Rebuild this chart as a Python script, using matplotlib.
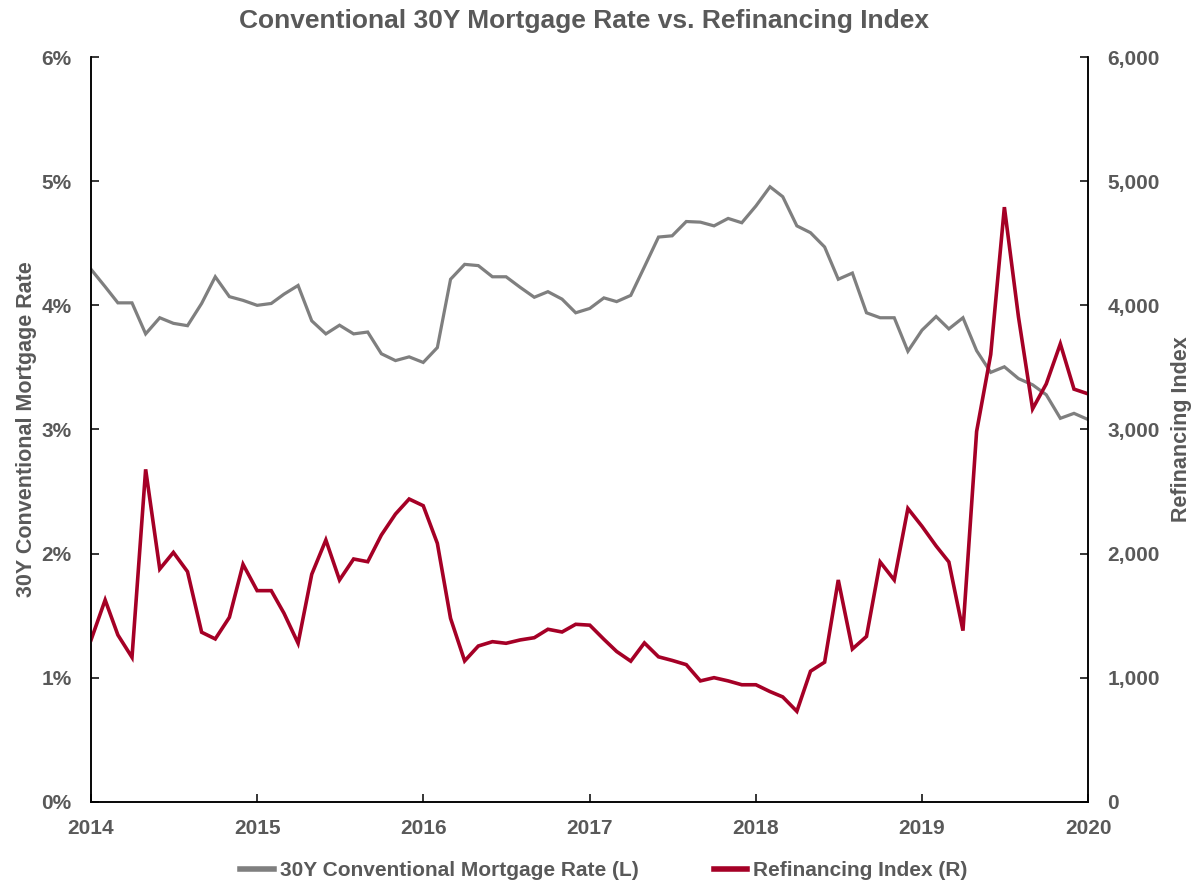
import matplotlib
matplotlib.use("Agg")
import matplotlib.pyplot as plt
import matplotlib.ticker as mticker
import pandas as pd

plt.rcParams['font.family'] = ['Liberation Sans', 'DejaVu Sans']

# Monthly observations, Jan 2014 through Jan 2020
months = pd.date_range("2014-01-01", periods=73, freq="MS")

mortgage_rate = [
    4.29, 4.15, 4.02, 4.02, 3.77, 3.90, 3.855, 3.836, 4.015, 4.23, 4.07, 4.04,
    4.00, 4.015, 4.09, 4.16, 3.875, 3.77, 3.84, 3.77, 3.785, 3.61, 3.555, 3.585,
    3.54, 3.66, 4.21, 4.33, 4.32, 4.23, 4.23, 4.145, 4.065, 4.11, 4.05, 3.94,
    3.975, 4.06, 4.03, 4.08, 4.31, 4.55, 4.56, 4.675, 4.67, 4.64, 4.70, 4.665,
    4.80, 4.955, 4.875, 4.64, 4.585, 4.47, 4.21, 4.26, 3.94, 3.90, 3.90, 3.63,
    3.80, 3.91, 3.81, 3.90, 3.635, 3.46, 3.505, 3.41, 3.36, 3.28, 3.09, 3.13,
    3.08,
]

refi_index = [
    1305, 1627, 1345, 1165, 2679, 1876, 2010, 1855, 1367, 1313, 1487, 1914,
    1702, 1702, 1520, 1278, 1834, 2110, 1788, 1957, 1935, 2150, 2319, 2440,
    2386, 2083, 1479, 1136, 1256, 1291, 1278, 1305, 1323, 1391, 1369, 1431,
    1424, 1310, 1212, 1134, 1281, 1169, 1140, 1106, 975, 1001, 975, 944,
    944, 889, 846, 730, 1053, 1126, 1788, 1232, 1333, 1933, 1788, 2364,
    2220, 2062, 1933, 1380, 2984, 3604, 4791, 3906, 3166, 3367, 3690, 3325,
    3287,
]

year_ticks = pd.date_range("2014-01-01", "2020-01-01", freq="YS")
year_labels = [str(d.year) for d in year_ticks]

TEXT = "#595959"
GREY = "#7F7F7F"
RED = "#A50026"

fig = plt.figure(figsize=(12.01, 8.84), dpi=100)
ax = fig.add_axes([0.0758, 0.0928, 0.8302, 0.8427])
ax2 = ax.twinx()

l1, = ax.plot(months, mortgage_rate, color=GREY, lw=2.3,
              solid_joinstyle="miter", label="30Y Conventional Mortgage Rate (L)")
l2, = ax2.plot(months, refi_index, color=RED, lw=2.6,
               solid_joinstyle="miter", label="Refinancing Index (R)")

ax.set_xlim(year_ticks[0], year_ticks[-1])
ax.set_ylim(0, 6)
ax2.set_ylim(0, 6000)
ax.set_yticks(range(0, 7))
ax.yaxis.set_major_formatter(mticker.FuncFormatter(lambda v, p: f"{v:.0f}%"))
ax2.set_yticks(range(0, 7000, 1000))
ax2.yaxis.set_major_formatter(mticker.FuncFormatter(lambda v, p: f"{v:,.0f}"))
ax.set_xticks(year_ticks)
ax.set_xticklabels(year_labels)

for a in (ax, ax2):
    a.spines["top"].set_visible(False)
    for s in a.spines.values():
        s.set_linewidth(1.1)
        s.set_color("black")

ax.tick_params(axis="y", direction="in", length=6, width=1.1, pad=14,
               labelsize=15, labelcolor=TEXT)
ax.tick_params(axis="x", direction="in", length=6, width=1.1, pad=12,
               labelsize=15, labelcolor=TEXT)
ax2.tick_params(axis="y", direction="in", length=6, width=1.1, pad=14,
                labelsize=15, labelcolor=TEXT)
for lab in ax.get_xticklabels() + ax.get_yticklabels() + ax2.get_yticklabels():
    lab.set_fontweight("bold")

ax.set_ylabel("30Y Conventional Mortgage Rate", fontsize=15.5, fontweight="bold",
              color=TEXT, labelpad=3)
ax2.set_ylabel("Refinancing Index", fontsize=15.5, fontweight="bold",
               color=TEXT, labelpad=8)

fig.suptitle("Conventional 30Y Mortgage Rate vs. Refinancing Index",
             x=0.486, y=0.99, fontsize=19, fontweight="bold", color=TEXT)

leg = fig.legend(handles=[l1, l2], loc="center", bbox_to_anchor=(0.503, 0.015),
                 ncol=2, frameon=False, handlelength=1.6, handletextpad=0.3,
                 columnspacing=3.6, prop={"size": 15, "weight": "bold"})
for t in leg.get_texts():
    t.set_color(TEXT)
for h in leg.legend_handles:
    h.set_linewidth(4)

fig.savefig("out.png", dpi=100)
